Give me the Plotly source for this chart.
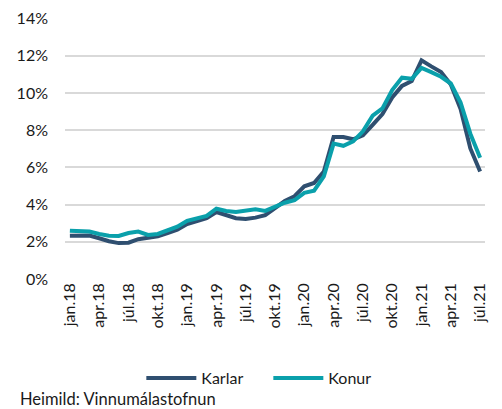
import plotly.graph_objects as go

month_names = ["jan", "feb", "mar", "apr", "maí", "jún", "júl", "ágú", "sep", "okt", "nóv", "des"]
years = ["18", "19", "20", "21"]
months = [f"{m}.{y}" for y in years for m in month_names][:43]  # jan.18 .. júl.21

karlar = [2.33, 2.35, 2.34, 2.19, 2.03, 1.93, 1.95, 2.14, 2.21, 2.30, 2.47, 2.65,
          2.95, 3.13, 3.27, 3.60, 3.45, 3.27, 3.23, 3.30, 3.43, 3.83, 4.19, 4.45,
          4.98, 5.16, 5.78, 7.63, 7.63, 7.51, 7.72, 8.29, 8.87, 9.76, 10.38, 10.64,
          11.75, 11.43, 11.13, 10.46, 9.14, 7.02, 5.78]
konur = [2.60, 2.57, 2.55, 2.42, 2.33, 2.31, 2.47, 2.55, 2.37, 2.42, 2.60, 2.81,
         3.13, 3.27, 3.39, 3.78, 3.66, 3.60, 3.69, 3.75, 3.66, 3.87, 4.10, 4.24,
         4.63, 4.75, 5.51, 7.28, 7.16, 7.40, 7.94, 8.78, 9.17, 10.16, 10.82, 10.76,
         11.35, 11.12, 10.87, 10.51, 9.49, 7.81, 6.52]

y_ticks = [0, 2, 4, 6, 8, 10, 12, 14]
x_tick_labels = months[::3]

font_family = "Lato, 'Open Sans', sans-serif"
text_color = "#1a1a1a"

W, H = 494, 401  # page adds an 8px body margin

fig = go.Figure()
fig.add_trace(go.Scatter(x=months, y=karlar, mode="lines", name="Karlar",
                         line=dict(color="#2F4F70", width=4)))
fig.add_trace(go.Scatter(x=months, y=konur, mode="lines", name="Konur",
                         line=dict(color="#0AA0AB", width=4)))

fig.update_layout(
    width=W, height=H,
    margin=dict(l=57, r=17, t=10, b=130, autoexpand=False),
    paper_bgcolor="white", plot_bgcolor="white",
    font=dict(family=font_family, size=15, color=text_color),
    showlegend=True,
    legend=dict(orientation="h", xref="container", yref="container",
                x=0.527, xanchor="center", y=1 - 370 / H, yanchor="middle",
                font=dict(size=16, color=text_color), itemwidth=50,
                entrywidth=62, traceorder="normal"),
    annotations=[dict(text="Heimild: Vinnumálastofnun", xref="paper", yref="paper",
                      x=-0.112, xanchor="left", y=-0.46, yanchor="middle",
                      showarrow=False, font=dict(size=16.5, color=text_color))],
)
fig.update_xaxes(
    type="category", categoryorder="array", categoryarray=months,
    range=[-0.5, 42.5],
    tickmode="array", tickvals=x_tick_labels, ticktext=x_tick_labels,
    tickangle=-90, showgrid=False, showline=False, ticks="",
    tickfont=dict(size=16, color=text_color), fixedrange=True, automargin=False,
    ticklabeloverflow="allow",
)
fig.update_yaxes(
    range=[0, 14.03], tickvals=y_ticks, ticktext=[f"{v}%" for v in y_ticks],
    showgrid=True, gridcolor="#D9D9D9", gridwidth=1.5, zeroline=False,
    showline=False, ticks="", ticklabelstandoff=16,
    tickfont=dict(size=16, color=text_color), fixedrange=True, automargin=False,
    ticklabeloverflow="allow",
)

fig.write_html("out.html")
